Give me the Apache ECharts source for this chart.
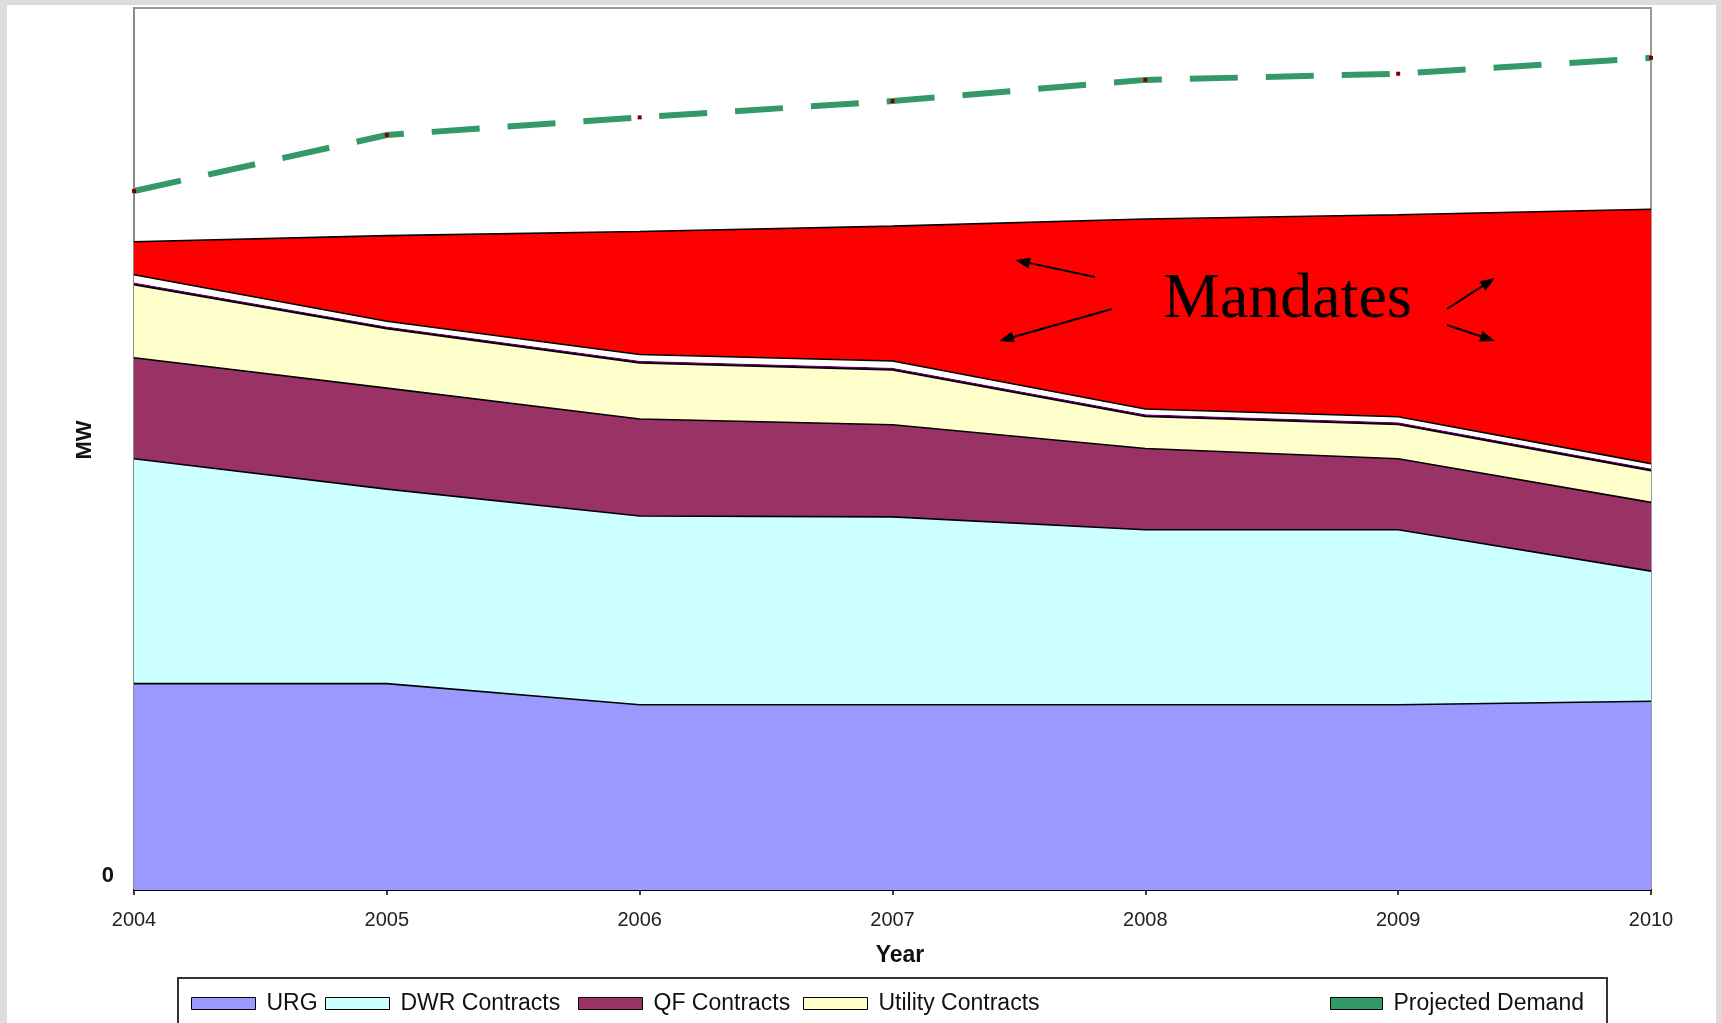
<!DOCTYPE html>
<html><head><meta charset="utf-8">
<script src="https://cdn.jsdelivr.net/npm/echarts@6/dist/echarts.min.js"></script>
<style>
html,body{margin:0;padding:0;background:#dcdcdc;width:1721px;height:1023px;overflow:hidden}
#panel{position:absolute;left:7px;top:5px;width:1709px;height:1018px;background:#fff}
#chart{position:absolute;left:0;top:0;width:1721px;height:1023px}
</style></head><body><div id="panel"></div><div id="chart"></div>
<script>
const years = ['2004', '2005', '2006', '2007', '2008', '2009', '2010'];
const urg = [23.4, 23.4, 21.0, 21.0, 21.0, 21.0, 21.4];
const dwrContracts = [25.5, 22.05, 21.4, 21.3, 19.85, 19.85, 14.75];
const qfContracts = [11.45, 11.45, 11.0, 10.45, 9.2, 8.05, 7.8];
const utilityContracts = [8.27, 6.75, 6.35, 6.2, 3.63, 3.87, 3.6];
const otherA = [0.25, 0.25, 0.25, 0.25, 0.25, 0.25, 0.25];
const otherB = [0.88, 0.59, 0.71, 0.77, 0.61, 0.64, 0.54];
const mandates = [3.74, 9.7, 13.95, 15.3, 21.53, 22.9, 28.85];
const projectedDemand = [79.25, 85.6, 87.6, 89.45, 91.85, 92.55, 94.35];

const FONT = '"Liberation Sans", Arial, sans-serif';

function area(name, data, fill, showLine) {
  return {
    name: name, type: 'line', stack: 'total', data: data,
    symbol: 'none', smooth: false,
    itemStyle: { color: fill, borderColor: '#000', borderWidth: 1 },
    areaStyle: { color: fill, opacity: 1 },
    lineStyle: showLine ? { color: '#000', width: 1.6 } : { width: 0, color: fill },
    emphasis: { disabled: true }, silent: true
  };
}

function legendAt(name, left, color, iw) {
  return {
    data: [{ name: name, itemStyle: { color: color, borderColor: '#000', borderWidth: 1 } }],
    left: left, top: 992, padding: 0, icon: 'rect',
    itemWidth: iw, itemHeight: 12, selectedMode: false,
    textStyle: { fontFamily: FONT, fontSize: 23, color: '#111', padding: [0, 0, 0, 6] }
  };
}

function arrow(x1, y1, x2, y2) {
  const ang = Math.atan2(y2 - y1, x2 - x1);
  const L = 15, W = 5.5;
  const bx = x2 - L * Math.cos(ang), by = y2 - L * Math.sin(ang);
  const px = -Math.sin(ang) * W, py = Math.cos(ang) * W;
  return [
    { type: 'line', shape: { x1: x1, y1: y1, x2: bx, y2: by }, style: { stroke: '#000', lineWidth: 2 }, z: 100 },
    { type: 'polygon', shape: { points: [[x2, y2], [bx + px, by + py], [bx - px, by - py]] }, style: { fill: '#000' }, z: 100 }
  ];
}

const chart = echarts.init(document.getElementById('chart'), null, { renderer: 'canvas' });
chart.setOption({
  backgroundColor: 'transparent',
  animation: false,
  grid: { left: 134, right: 70, top: 8, bottom: 133, show: true, borderColor: '#9a9a9a', borderWidth: 2, backgroundColor: 'transparent' },
  xAxis: {
    type: 'category', data: years, boundaryGap: false,
    name: 'Year', nameLocation: 'middle', nameGap: 54,
    nameTextStyle: { fontFamily: FONT, fontSize: 23, fontWeight: 'bold', color: '#111', padding: [0, 0, 0, 15] },
    axisLine: { show: true, lineStyle: { color: '#000', width: 2 } },
    axisTick: { show: true, length: 5, lineStyle: { color: '#000', width: 1.5 } },
    axisLabel: { interval: 0, fontFamily: FONT, fontSize: 20, color: '#222', margin: 20 },
    splitLine: { show: false }
  },
  yAxis: {
    type: 'value', min: 0, max: 100, interval: 100,
    name: 'MW', nameLocation: 'middle', nameGap: 38, nameMoveOverlap: false,
    nameTextStyle: { fontFamily: FONT, fontSize: 22, fontWeight: 'bold', color: '#111', padding: [0, 0, 0, 18] },
    axisLine: { show: true, lineStyle: { color: '#8a8a8a', width: 2 } },
    axisTick: { show: false },
    splitLine: { show: false },
    axisLabel: {
      formatter: function (v) { return v === 0 ? '0' : ''; },
      fontFamily: FONT, fontSize: 22, fontWeight: 'bold', color: '#111', margin: 20,
      verticalAlign: 'bottom', lineHeight: 28
    }
  },
  legend: [
    legendAt('URG', 191, '#9999ff', 64),
    legendAt('DWR Contracts', 325, '#ccffff', 64),
    legendAt('QF Contracts', 578, '#993366', 64),
    legendAt('Utility Contracts', 803, '#ffffcc', 64),
    legendAt('Projected Demand', 1330, '#339966', 52)
  ],
  series: [
    area('URG', urg, '#9999ff', true),
    area('DWR Contracts', dwrContracts, '#ccffff', true),
    area('QF Contracts', qfContracts, '#993366', true),
    area('Utility Contracts', utilityContracts, '#ffffcc', true),
    area('Other Resources', otherA, '#660066', false),
    area('New Resources', otherB, '#ffffff', true),
    area('Mandates', mandates, '#ff0000', true),
    {
      name: 'Projected Demand', type: 'line', data: projectedDemand, z: 10,
      symbol: 'rect', symbolSize: 4, showSymbol: true,
      itemStyle: { color: '#800000' },
      lineStyle: { color: '#339966', width: 6, type: [48, 28], cap: 'butt' },
      emphasis: { disabled: true }, silent: true
    }
  ],
  graphic: [
    { type: 'rect', shape: { x: 178, y: 978, width: 1429, height: 120 }, style: { fill: 'none', stroke: '#333', lineWidth: 2 }, z: 1, silent: true },
    { type: 'text', x: 1163, y: 300, style: { text: 'Mandates', font: '64px "Liberation Serif", "Times New Roman", serif', fill: '#000', verticalAlign: 'middle', align: 'left' }, z: 100 }
  ].concat(
    arrow(1095, 277, 1015, 260),
    arrow(1112, 309, 999, 341),
    arrow(1447, 309, 1495, 278),
    arrow(1447, 325, 1495, 341)
  )
});
</script></body></html>
